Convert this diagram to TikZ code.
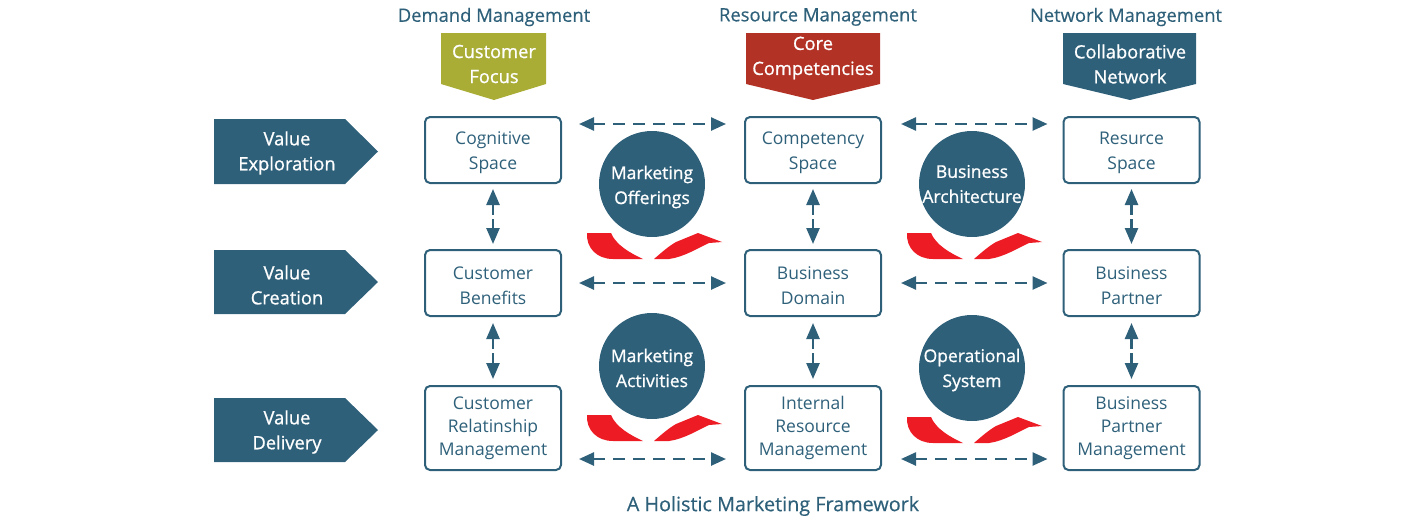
\documentclass[tikz,border=0pt]{standalone}
\usepackage{fontspec}
\setmainfont{Open Sans}
\newfontfamily\medfont{Open Sans}[FakeBold=0.9]
\newfontfamily\headfont{Open Sans}[FakeBold=0.4]
\usetikzlibrary{arrows.meta,calc}
\definecolor{hblue}{RGB}{46,96,122}
\definecolor{holive}{RGB}{169,173,53}
\definecolor{hbrick}{RGB}{179,50,38}
\definecolor{hred}{RGB}{237,28,36}
\tikzset{
  plain/.style={inner sep=0pt, align=center, text=hblue, font=\headfont\fontsize{18.4}{25}\selectfont},
  whitetxt/.style={inner sep=0pt, align=center, text=white, font=\medfont\fontsize{18.3}{25}\selectfont},
  boxbase/.style={draw=hblue, line width=2pt, rounded corners=5pt, minimum width=136pt, align=center, text=hblue, inner sep=0pt},
  box/.style={boxbase, minimum height=66pt, font=\fontsize{17.5}{25}\selectfont, text height=43pt},
  tallbox/.style={boxbase, minimum height=84pt, font=\fontsize{17.5}{23}\selectfont},
  circ/.style={circle, fill=hblue, minimum size=106pt, inner sep=0pt},
  circtxt/.style={inner sep=0pt, align=center, text=white, font=\medfont\fontsize{17.5}{25}\selectfont},
  harr/.style={hblue, line width=2.5pt, dash pattern=on 12pt off 8pt, {Triangle[length=15pt,width=13pt]}-{Triangle[length=15pt,width=13pt]}},
  varr/.style={hblue, line width=2.5pt, dash pattern=on 11pt off 4pt, {Triangle[length=16pt,width=13pt]}-{Triangle[length=16pt,width=13pt]}},
  redarr/.style={fill=hred, draw=none}
}
\begin{document}
\begin{tikzpicture}[x=1pt,y=-1pt]
\useasboundingbox (0,0) rectangle (1420,520);

% headers
\node[plain] (h1) at (494,17) {Demand Management};
\node[plain] (h2) at (818,17) {Resource Management};
\node[plain] (h3) at (1126,17) {Network Management};

% down pentagons
\fill[holive] (441,33) -- (546,33) -- (546,84) -- (494,100) -- (441,84) -- cycle;
\node[whitetxt] (cf) at (494,64) {Customer\\Focus};
\fill[hbrick] (746,33) -- (880,33) -- (880,84) -- (813,100) -- (746,84) -- cycle;
\node[whitetxt] (cc) at (813,58) {Core\\Competencies};
\fill[hblue] (1063,33) -- (1196,33) -- (1196,84) -- (1130,100) -- (1063,84) -- cycle;
\node[whitetxt] (cn) at (1130,64) {Collaborative\\Network};

% left pentagons
\fill[hblue] (214,119) -- (345,119) -- (378,151.5) -- (345,184) -- (214,184) -- cycle;
\node[whitetxt] (ve) at (287,153) {Value\\Exploration};
\fill[hblue] (214,250) -- (345,250) -- (378,282) -- (345,314) -- (214,314) -- cycle;
\node[whitetxt] (vc) at (287,285) {Value\\Creation};
\fill[hblue] (214,398) -- (345,398) -- (378,430) -- (345,462) -- (214,462) -- cycle;
\node[whitetxt] (vd) at (287,432) {Value\\Delivery};

% boxes
\node[box] (b11) at (493,150) {Cognitive\\Space};
\node[box] (b12) at (813,150) {Competency\\Space};
\node[box] (b13) at (1131.5,150) {Resurce\\Space};
\node[box] (b21) at (493,283) {Customer\\Benefits};
\node[box] (b22) at (813,283) {Business\\Domain};
\node[box] (b23) at (1131.5,283) {Business\\Partner};
\node[tallbox] (b31) at (493,428) {Customer\\Relatinship\\Management};
\node[tallbox] (b32) at (813,428) {Internal\\Resource\\Management};
\node[tallbox] (b33) at (1131.5,428) {Business\\Partner\\Management};

% horizontal arrows
\draw[harr, shorten <=17pt, shorten >=18pt] ([yshift=26pt]b11.east) -- ([yshift=26pt]b12.west);
\draw[harr, shorten <=19pt, shorten >=15pt] ([yshift=26pt]b12.east) -- ([yshift=26pt]b13.west);
\draw[harr, shorten <=17pt, shorten >=18pt] (b21.east) -- (b22.west);
\draw[harr, shorten <=19pt, shorten >=15pt] (b22.east) -- (b23.west);
\draw[harr, shorten <=17pt, shorten >=18pt] ([yshift=-31pt]b31.east) -- ([yshift=-31pt]b32.west);
\draw[harr, shorten <=19pt, shorten >=15pt] ([yshift=-31pt]b32.east) -- ([yshift=-31pt]b33.west);

% vertical arrows
\foreach \c in {1,2,3}{
  \draw[varr, shorten <=5pt, shorten >=5pt] (b1\c.south) -- (b2\c.north);
  \draw[varr, shorten <=6pt, shorten >=6pt] (b2\c.south) -- (b3\c.north);
}

% circles
\node[circ] (c1) at (652,184) {};
\node[circtxt] (t1) at (652,187) {Marketing\\Offerings};
\node[circ] (c2) at (972,184) {};
\node[circtxt] (t2) at (972,184) {Business\\Architecture};
\node[circ] (c3) at (652,366) {};
\node[circtxt] (t3) at (652,368) {Marketing\\Activities};
\node[circ] (c4) at (972,368) {};
\node[circtxt] (t4) at (972,370) {Operational\\System};

% red curved arrows
\foreach \cx/\cy in {652/184, 972/184, 652/366, 972/368}{
  \begin{scope}[shift={(\cx,\cy)}]
    \fill[redarr] (-65,49) .. controls (-66,64) and (-55,75) .. (-39,75) -- (-9,75) .. controls (-22,69) and (-36,61) .. (-41,49) -- cycle;
    \fill[redarr] (2,75) .. controls (10,68) and (17,62) .. (24,58) -- (46,49) -- (70,58) -- (57,59) .. controls (46,64) and (32,73) .. (17,75) -- cycle;
  \end{scope}
}

% title
\node[plain, font=\headfont\fontsize{19.8}{25}\selectfont] (title) at (773,506) {A Holistic Marketing Framework};
\end{tikzpicture}
\end{document}
